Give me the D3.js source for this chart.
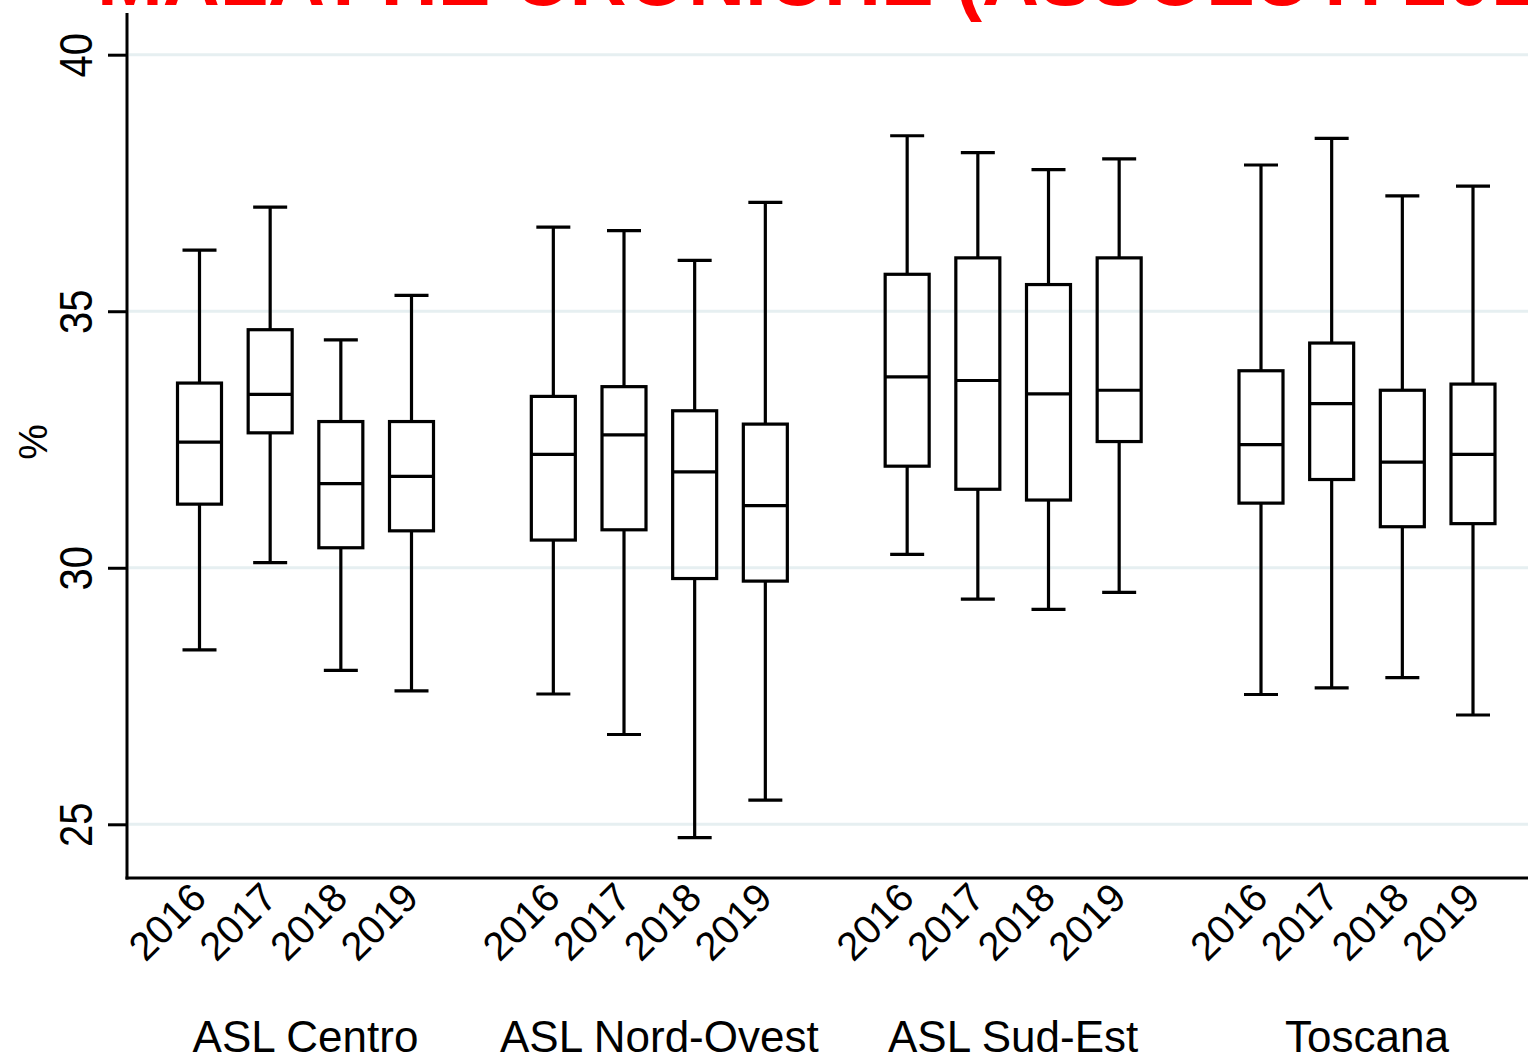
<!DOCTYPE html>
<html>
<head>
<meta charset="utf-8">
<script src="https://cdn.jsdelivr.net/npm/d3@7"></script>
<style>
  html, body { margin: 0; padding: 0; background: #fff; overflow: hidden; }
  svg { display: block; }
  text { font-family: "Liberation Sans", Arial, sans-serif; }
</style>
</head>
<body>
<div id="chart"></div>
<script>
const titleText = "MALATTIE CRONICHE (ASSOLUTI 2016-2019)";
const groups = ["ASL Centro", "ASL Nord-Ovest", "ASL Sud-Est", "Toscana"];
const years = ["2016", "2017", "2018", "2019"];
const yTicks = [25, 30, 35, 40];
const yLabel = "%";
// values in group-major order: each group has 2016..2019
const whiskerHigh = [36.19, 37.03, 34.44, 35.31,  36.64, 36.57, 35.99, 37.12,  38.42, 38.09, 37.76, 37.97,  37.85, 38.37, 37.25, 37.44];
const q3Values    = [33.60, 34.64, 32.85, 32.85,  33.34, 33.53, 33.06, 32.80,  35.72, 36.04, 35.52, 36.04,  33.84, 34.38, 33.46, 33.58];
const medians     = [32.45, 33.38, 31.64, 31.78,  32.21, 32.59, 31.87, 31.21,  33.72, 33.65, 33.39, 33.46,  32.40, 33.20, 32.06, 32.21];
const q1Values    = [31.24, 32.63, 30.39, 30.72,  30.54, 30.74, 29.79, 29.74,  31.98, 31.53, 31.32, 32.46,  31.26, 31.72, 30.80, 30.86];
const whiskerLow  = [28.40, 30.10, 28.00, 27.60,  27.54, 26.75, 24.74, 25.47,  30.26, 29.39, 29.19, 29.52,  27.53, 27.66, 27.86, 27.13];

const W = 1528, H = 1057;
const svg = d3.select("#chart").append("svg").attr("width", W).attr("height", H);

const plotLeft = 127, plotRight = W, plotTop = 13, plotBottom = 878;

const y = d3.scaleLinear().domain([25, 40]).range([824.3, 54.7]);
const xGroup = d3.scalePoint().domain(groups).range([305.5, 1367]);
const xYear = d3.scalePoint().domain(years).range([-106, 106]);

const rows = [];
groups.forEach((g, gi) => years.forEach((yr, yi) => {
  const k = gi * years.length + yi;
  rows.push({group: g, year: yr, hi: whiskerHigh[k], q3: q3Values[k], med: medians[k], q1: q1Values[k], lo: whiskerLow[k]});
}));
const cx = d => xGroup(d.group) + xYear(d.year);

// title (cut off at top)
svg.append("text")
  .attr("x", 97).attr("y", 5)
  .attr("fill", "#ff0000")
  .attr("font-weight", "bold")
  .attr("font-size", 79)
  .text(titleText);

// gridlines
svg.append("g").selectAll("line").data(yTicks).join("line")
  .attr("x1", plotLeft + 2).attr("x2", plotRight)
  .attr("y1", d => y(d)).attr("y2", d => y(d))
  .attr("stroke", "#e6eff1").attr("stroke-width", 3);

// y axis
const yAxis = d3.axisLeft(y).tickValues(yTicks).tickSize(19).tickPadding(0).tickFormat(d3.format("d"));
const gy = svg.append("g").attr("transform", `translate(${plotLeft},0)`).call(yAxis);
gy.select(".domain").remove();
gy.selectAll(".tick line").attr("stroke", "#000").attr("stroke-width", 3);
gy.selectAll(".tick text")
  .attr("x", 0).attr("dy", 0).attr("y", 0)
  .attr("font-size", 40)
  .attr("fill", "#000")
  .attr("text-anchor", "middle")
  .attr("dominant-baseline", "central")
  .attr("transform", "translate(-51,0) rotate(-90) scale(1,1.15)");

// axes lines
svg.append("line").attr("x1", plotLeft).attr("x2", plotLeft).attr("y1", plotTop).attr("y2", plotBottom + 1.5)
  .attr("stroke", "#000").attr("stroke-width", 3);
svg.append("line").attr("x1", plotLeft - 1.5).attr("x2", plotRight).attr("y1", plotBottom).attr("y2", plotBottom)
  .attr("stroke", "#000").attr("stroke-width", 3);

// y label
svg.append("text")
  .attr("transform", "translate(47,442) rotate(-90)")
  .attr("text-anchor", "middle")
  .attr("font-size", 40)
  .text(yLabel);

// boxes
const boxW = 44, capW = 34, sw = 3.2;
const bx = svg.append("g").selectAll("g").data(rows).join("g");
bx.append("line").attr("x1", cx).attr("x2", cx).attr("y1", d => y(d.hi)).attr("y2", d => y(d.q3))
  .attr("stroke", "#000").attr("stroke-width", sw);
bx.append("line").attr("x1", cx).attr("x2", cx).attr("y1", d => y(d.q1)).attr("y2", d => y(d.lo))
  .attr("stroke", "#000").attr("stroke-width", sw);
bx.append("line").attr("x1", d => cx(d) - capW / 2).attr("x2", d => cx(d) + capW / 2)
  .attr("y1", d => y(d.hi)).attr("y2", d => y(d.hi)).attr("stroke", "#000").attr("stroke-width", sw);
bx.append("line").attr("x1", d => cx(d) - capW / 2).attr("x2", d => cx(d) + capW / 2)
  .attr("y1", d => y(d.lo)).attr("y2", d => y(d.lo)).attr("stroke", "#000").attr("stroke-width", sw);
bx.append("rect").attr("x", d => cx(d) - boxW / 2).attr("width", boxW)
  .attr("y", d => y(d.q3)).attr("height", d => y(d.q1) - y(d.q3))
  .attr("fill", "none").attr("stroke", "#000").attr("stroke-width", sw);
bx.append("line").attr("x1", d => cx(d) - boxW / 2).attr("x2", d => cx(d) + boxW / 2)
  .attr("y1", d => y(d.med)).attr("y2", d => y(d.med)).attr("stroke", "#000").attr("stroke-width", sw);

// year labels (rotated)
svg.append("g").selectAll("text").data(rows).join("text")
  .attr("transform", d => `translate(${cx(d) + 9},${plotBottom + 22}) rotate(-45)`)
  .attr("text-anchor", "end")
  .attr("font-size", 40)
  .text(d => d.year);

// group labels
svg.append("g").selectAll("text").data(groups).join("text")
  .attr("x", d => xGroup(d)).attr("y", 1052)
  .attr("text-anchor", "middle")
  .attr("font-size", 44)
  .text(d => d);
</script>
</body>
</html>
